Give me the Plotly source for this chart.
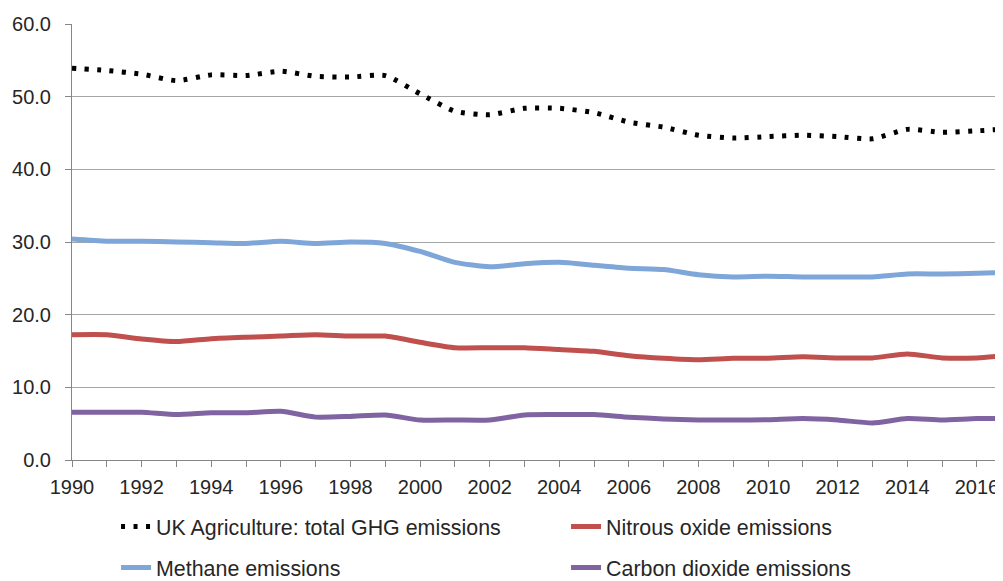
import plotly.graph_objects as go

years = list(range(1990, 2018))

total_ghg = [53.9, 53.6, 53.1, 52.2, 53.0, 52.9, 53.5, 52.8, 52.7, 52.9,
             50.4, 48.0, 47.5, 48.4, 48.4, 47.8, 46.5, 45.8, 44.7, 44.3,
             44.5, 44.7, 44.5, 44.2, 45.5, 45.1, 45.3, 45.6]
methane = [30.4, 30.1, 30.1, 30.0, 29.9, 29.8, 30.1, 29.8, 30.0, 29.8,
           28.7, 27.2, 26.6, 27.0, 27.2, 26.8, 26.4, 26.2, 25.5, 25.2,
           25.3, 25.2, 25.2, 25.2, 25.6, 25.6, 25.7, 25.8]
nitrous = [17.25, 17.25, 16.65, 16.3, 16.7, 16.9, 17.05, 17.25, 17.05, 17.05,
           16.2, 15.45, 15.45, 15.45, 15.2, 14.95, 14.35, 14.0, 13.8, 14.0,
           14.0, 14.2, 14.05, 14.05, 14.6, 14.05, 14.05, 14.45]
co2 = [6.57, 6.57, 6.57, 6.25, 6.5, 6.5, 6.7, 5.9, 6.0, 6.2,
       5.5, 5.5, 5.5, 6.2, 6.25, 6.25, 5.9, 5.65, 5.5, 5.5,
       5.55, 5.7, 5.5, 5.1, 5.7, 5.5, 5.7, 5.7]

tick_years = list(range(1990, 2017, 2))
y_ticks = [0, 10, 20, 30, 40, 50, 60]

TEXT = "#262626"
FONT = "Liberation Sans, Arial, sans-serif"

fig = go.Figure()
fig.add_trace(go.Scatter(x=years, y=total_ghg, mode="lines",
                         name="UK Agriculture: total GHG emissions", legend="legend",
                         line=dict(color="black", width=5, dash="4px,8.5px",
                                   shape="spline", smoothing=0.6)))
fig.add_trace(go.Scatter(x=years, y=nitrous, mode="lines",
                         name="Nitrous oxide emissions", legend="legend",
                         line=dict(color="#C0504D", width=5, shape="spline", smoothing=0.6)))
fig.add_trace(go.Scatter(x=years, y=methane, mode="lines",
                         name="Methane emissions", legend="legend2",
                         line=dict(color="#7FA6D8", width=5, shape="spline", smoothing=0.6)))
fig.add_trace(go.Scatter(x=years, y=co2, mode="lines",
                         name="Carbon dioxide emissions", legend="legend2",
                         line=dict(color="#8064A2", width=5, shape="spline", smoothing=0.6)))

leg_common = dict(orientation="h", x=0.0473, xanchor="left", yanchor="middle",
                  entrywidth=405, entrywidthmode="pixels",
                  font=dict(size=21.4, family=FONT, color=TEXT),
                  bgcolor="rgba(0,0,0,0)", traceorder="normal")

fig.update_layout(
    width=995, height=573,
    margin=dict(l=64, r=0, t=16, b=121, autoexpand=False),
    paper_bgcolor="white", plot_bgcolor="white",
    font=dict(family=FONT, color=TEXT, size=20),
    showlegend=True,
    legend=dict(y=-0.153, **leg_common),
    legend2=dict(y=-0.247, **leg_common),
    xaxis=dict(range=[1990, 2016.75], tickmode="array", tickvals=tick_years,
               ticktext=[str(y) for y in tick_years], automargin=False,
               showgrid=False, showline=True, linecolor="#868686", linewidth=1,
               ticks="outside", ticklen=6, tickcolor="#868686", ticklabelstandoff=3,
               minor=dict(dtick=1, tick0=1990, ticks="outside", ticklen=6, tickcolor="#868686"),
               tickfont=dict(size=20, family=FONT, color=TEXT), zeroline=False),
    yaxis=dict(range=[0, 60], tickmode="array", tickvals=y_ticks,
               ticktext=[f"{v:.1f}" for v in y_ticks], automargin=False,
               showgrid=True, gridcolor="#A6A6A6", gridwidth=1,
               showline=True, linecolor="#868686", linewidth=1,
               ticks="outside", ticklen=6, tickcolor="#868686", ticklabelstandoff=10,
               tickfont=dict(size=20, family=FONT, color=TEXT), zeroline=False),
)

fig.write_html("out.html")
